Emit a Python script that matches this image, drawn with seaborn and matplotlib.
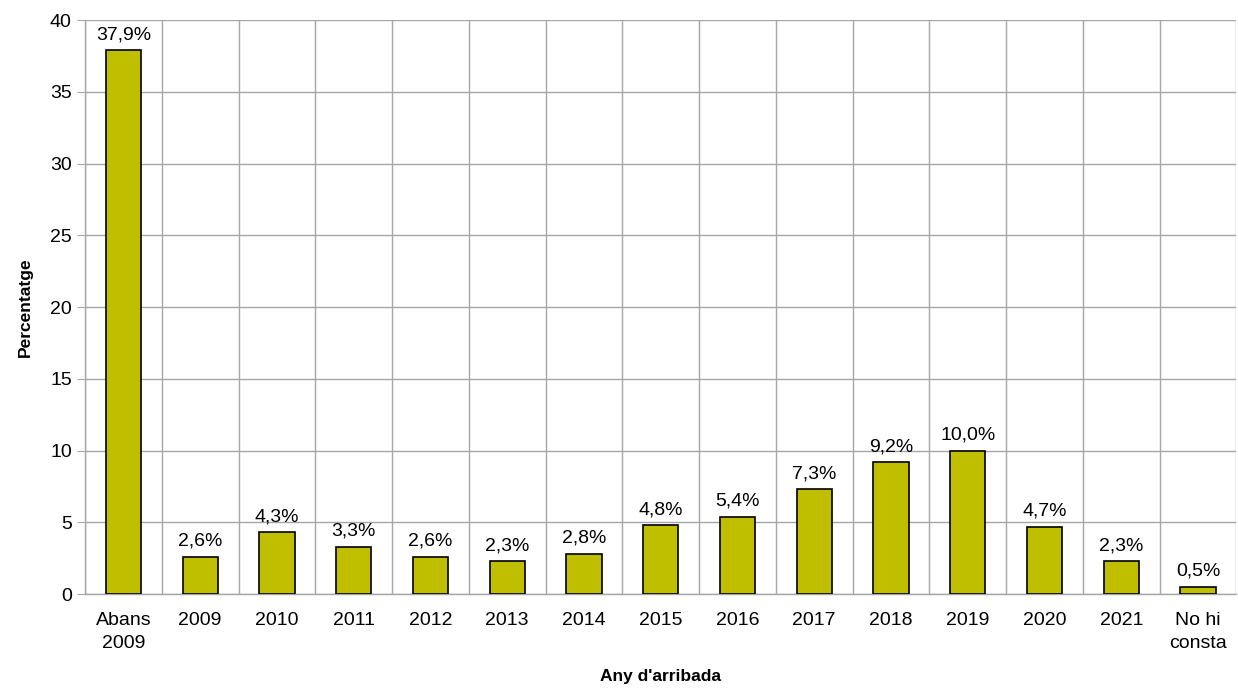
import matplotlib
matplotlib.use("Agg")
import matplotlib.pyplot as plt
import seaborn as sns
import numpy as np
import pandas as pd
from matplotlib.ticker import FixedLocator

categories = ["Abans\n2009", "2009", "2010", "2011", "2012", "2013", "2014", "2015",
              "2016", "2017", "2018", "2019", "2020", "2021", "No hi\nconsta"]
values = [37.9, 2.6, 4.3, 3.3, 2.6, 2.3, 2.8, 4.8, 5.4, 7.3, 9.2, 10.0, 4.7, 2.3, 0.5]
labels = ["37,9%", "2,6%", "4,3%", "3,3%", "2,6%", "2,3%", "2,8%", "4,8%", "5,4%",
          "7,3%", "9,2%", "10,0%", "4,7%", "2,3%", "0,5%"]
yticks = [0, 5, 10, 15, 20, 25, 30, 35, 40]

sns.set_style("white")
plt.rcParams['font.family'] = ['Liberation Sans', 'DejaVu Sans']
plt.rcParams['text.color'] = 'black'
plt.rcParams['axes.labelcolor'] = 'black'
plt.rcParams['xtick.color'] = 'black'
plt.rcParams['ytick.color'] = 'black'

df = pd.DataFrame({"cat": categories, "val": values})

fig = plt.figure(figsize=(12.38, 6.9), dpi=100)
ax = fig.add_axes([0.0687, 0.139, 0.930, 0.832])

sns.barplot(data=df, x="cat", y="val", color="#BFBF00", saturation=1, width=0.46,
            edgecolor="black", linewidth=1.2, ax=ax, zorder=3)

n = len(categories)
ax.set_xlim(-0.5, n - 0.5)
ax.set_ylim(0, 40)
ax.set_yticks(yticks)
ax.set_xticks(range(n))
ax.set_xticklabels(categories, linespacing=1.45)
ax.yaxis.grid(True, color="#A6A6A6", linewidth=1.0, zorder=0)
ax.xaxis.set_minor_locator(FixedLocator(np.arange(-0.5, n, 1.0)))
ax.xaxis.grid(True, which="minor", color="#A6A6A6", linewidth=1.0, zorder=0)
ax.set_axisbelow(True)

for s in ["top", "right"]:
    ax.spines[s].set_visible(False)
for s in ["left", "bottom"]:
    ax.spines[s].set_color("#A6A6A6")
    ax.spines[s].set_linewidth(1.0)

ax.tick_params(axis="x", which="major", length=0, labelsize=14, pad=13)
ax.tick_params(axis="x", which="minor", length=6, color="#A6A6A6", direction="out")
ax.tick_params(axis="y", length=6, color="#A6A6A6", labelcolor="black", direction="out",
               labelsize=14, left=True)

for i, (v, lab) in enumerate(zip(values, labels)):
    ax.annotate(lab, (i, v), xytext=(0, 5), textcoords="offset points",
                ha="center", va="bottom", fontsize=14, color="black")

ax.set_xlabel("Any d'arribada", fontsize=12.5, fontweight="bold", labelpad=12)
ax.set_ylabel("Percentatge", fontsize=12.5, fontweight="bold", labelpad=12)

fig.savefig("out.png", dpi=100)
